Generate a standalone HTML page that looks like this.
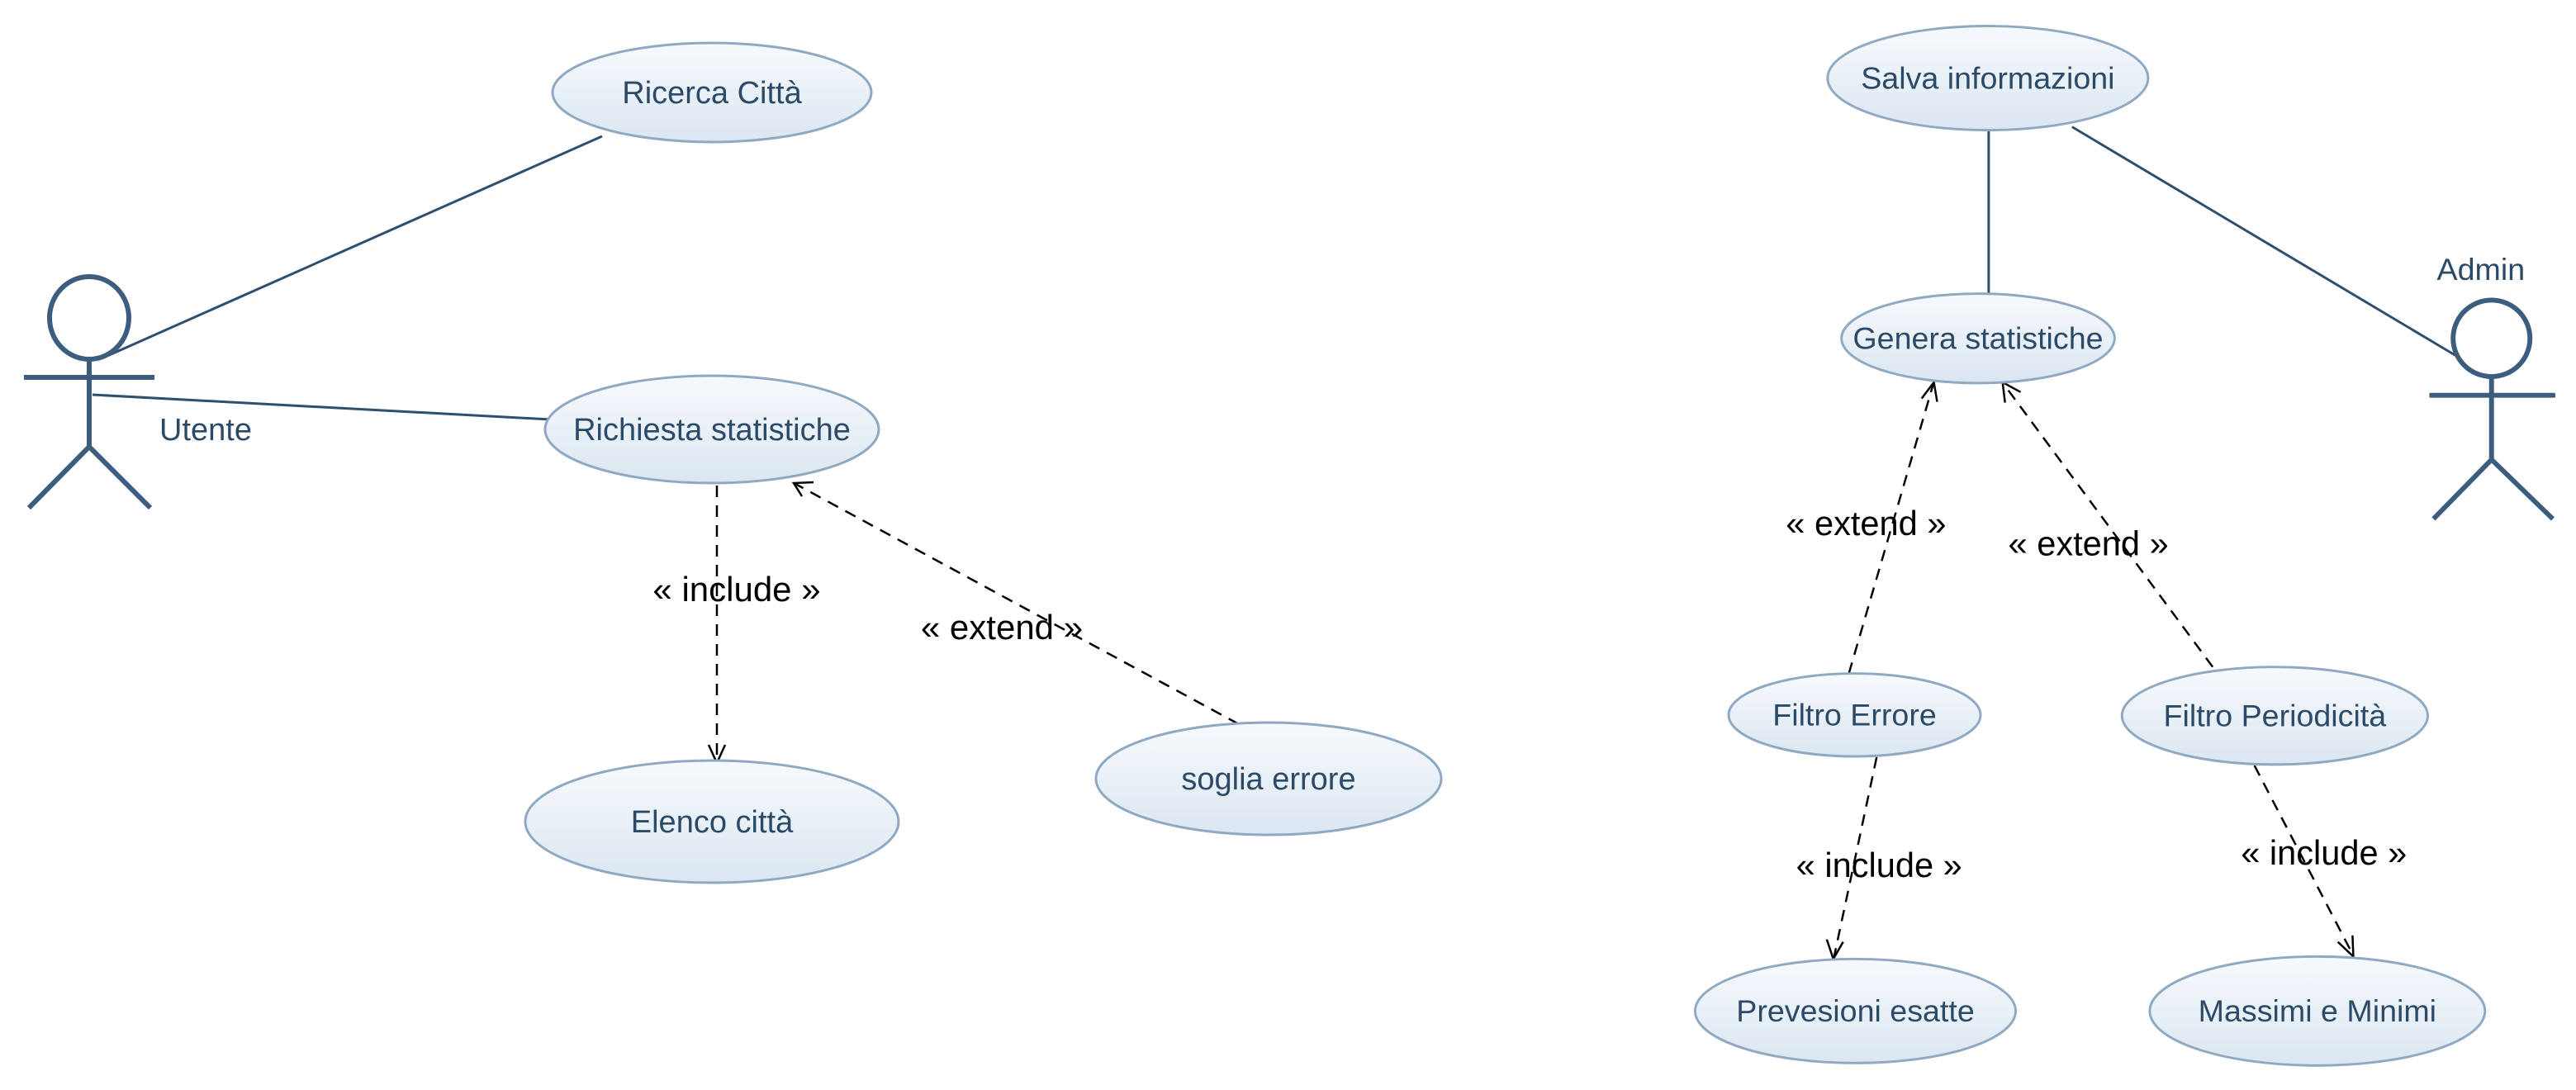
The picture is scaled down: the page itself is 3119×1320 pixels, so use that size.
<!DOCTYPE html>
<html><head><meta charset="utf-8"><style>
html,body{margin:0;padding:0;background:#fff;}
svg{display:block;}
.n{font-family:"Liberation Sans",sans-serif;font-size:38px;fill:#2b4a68;text-anchor:middle;}
.l{font-family:"Liberation Sans",sans-serif;font-size:42px;fill:#000;text-anchor:middle;}
.e{fill:url(#g);stroke:#90a9c2;stroke-width:3;}
.a{stroke:#2f4f6f;stroke-width:3;fill:none;}
.act{stroke:#3d5d7e;stroke-width:6;fill:none;}
.d{stroke:#000;stroke-width:2.5;stroke-dasharray:14,10;fill:none;}
.h{stroke:#000;stroke-width:2.5;fill:none;}
</style></head><body>
<svg width="3119" height="1320" viewBox="0 0 3119 1320" xmlns="http://www.w3.org/2000/svg">
<defs><linearGradient id="g" x1="0" y1="0" x2="0" y2="1"><stop offset="0" stop-color="#f7fafd"/><stop offset="1" stop-color="#dbe6f1"/></linearGradient></defs>

<!-- left connectors -->
<line class="a" x1="130" y1="431" x2="729" y2="165"/>
<line class="a" x1="112" y1="478" x2="667" y2="508"/>
<line class="d" x1="868" y1="588" x2="868" y2="922"/>
<polyline class="h" points="858,902 868,924 878,902"/>
<line class="d" x1="1500" y1="877" x2="963" y2="586"/>
<polyline class="h" points="971,601 961,585 985,584"/>

<!-- left actor -->
<ellipse class="act" cx="108" cy="385" rx="48" ry="50"/>
<line class="act" x1="29" y1="457" x2="187" y2="457"/>
<line class="act" x1="108" y1="435" x2="108" y2="541"/>
<polyline class="act" points="35,615 108,541 182,615"/>
<text class="n" x="193" y="533" style="text-anchor:start">Utente</text>

<!-- left nodes -->
<ellipse class="e" cx="862" cy="112" rx="193" ry="60"/>
<text class="n" x="862" y="125">Ricerca Città</text>
<ellipse class="e" cx="862" cy="520" rx="202" ry="65"/>
<text class="n" x="862" y="533">Richiesta statistiche</text>
<ellipse class="e" cx="862" cy="995" rx="226" ry="74"/>
<text class="n" x="862" y="1008">Elenco città</text>
<ellipse class="e" cx="1536" cy="943" rx="209" ry="68"/>
<text class="n" x="1536" y="956">soglia errore</text>

<text class="l" x="892" y="728">« include »</text>
<text class="l" x="1213" y="774">« extend »</text>

<g transform="translate(1900,0) scale(0.99,0.985) translate(-1900,0)">
<!-- right connectors -->
<line class="a" x1="2413" y1="158" x2="2413" y2="362"/>
<line class="a" x1="2515" y1="156" x2="2989" y2="440"/>
<line class="d" x1="2242" y1="828" x2="2345" y2="473"/>
<polyline class="h" points="2331,490 2346,470 2350,494"/>
<line class="d" x1="2687" y1="820" x2="2432" y2="473"/>
<polyline class="h" points="2433,495 2430,470 2452,482"/>
<line class="d" x1="2276" y1="931" x2="2224" y2="1176"/>
<polyline class="h" points="2215,1155 2223,1179 2235,1158"/>
<line class="d" x1="2738" y1="941" x2="2858" y2="1173"/>
<polyline class="h" points="2840,1158 2859,1176 2858,1150"/>

<!-- right actor -->
<ellipse class="act" cx="3028" cy="416" rx="47" ry="47"/>
<line class="act" x1="2952" y1="486" x2="3106" y2="486"/>
<line class="act" x1="3028" y1="463" x2="3028" y2="565"/>
<polyline class="act" points="2957,638 3028,565 3103,638"/>
<text class="n" x="3015" y="344">Admin</text>

<!-- right nodes -->
<ellipse class="e" cx="2412" cy="96" rx="196" ry="64"/>
<text class="n" x="2412" y="109">Salva informazioni</text>
<ellipse class="e" cx="2400" cy="416" rx="167" ry="55"/>
<text class="n" x="2400" y="429">Genera statistiche</text>
<ellipse class="e" cx="2249" cy="879" rx="154" ry="51"/>
<text class="n" x="2249" y="892">Filtro Errore</text>
<ellipse class="e" cx="2763" cy="880" rx="187" ry="60"/>
<text class="n" x="2763" y="893">Filtro Periodicità</text>
<ellipse class="e" cx="2250" cy="1243" rx="196" ry="64"/>
<text class="n" x="2250" y="1256">Prevesioni esatte</text>
<ellipse class="e" cx="2815" cy="1243" rx="205" ry="67"/>
<text class="n" x="2815" y="1256">Massimi e Minimi</text>

<text class="l" x="2263" y="658">« extend »</text>
<text class="l" x="2535" y="683">« extend »</text>
<text class="l" x="2279" y="1078">« include »</text>
<text class="l" x="2823" y="1063">« include »</text>
</g>
</svg>
</body></html>
